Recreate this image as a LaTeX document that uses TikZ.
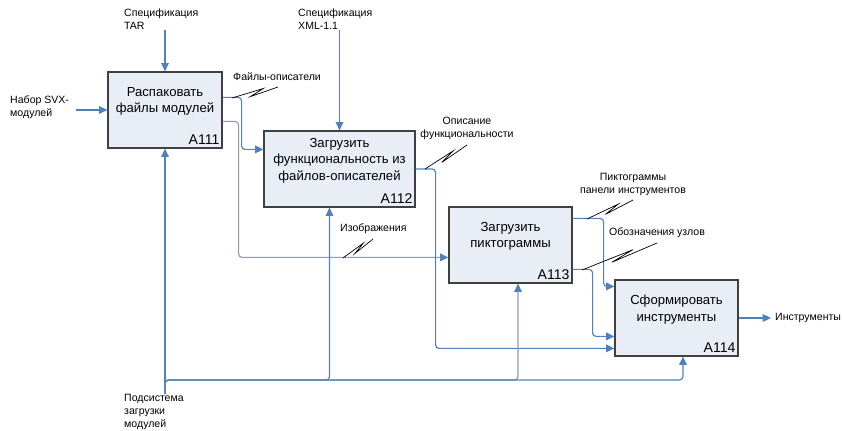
\documentclass[tikz,border=0pt]{standalone}
\usepackage{fontspec}
\setmainfont{Liberation Sans}
\usetikzlibrary{arrows.meta,calc}
\definecolor{flowblue}{RGB}{79,129,189}
\definecolor{flowgrey}{RGB}{140,155,178}
\definecolor{boxfill}{RGB}{233,237,246}
\tikzset{
  box/.style={draw=black!75, fill=boxfill, line width=1pt, minimum height=2.28cm, inner sep=0pt},
  btext/.style={font=\fontsize{11.2}{14}\selectfont, align=center},
  num/.style={anchor=south east, font=\fontsize{12}{14}\selectfont, inner xsep=2.5pt, inner ysep=3pt},
  lbl/.style={font=\fontsize{9}{11}\selectfont, align=left, inner sep=0pt},
  flow/.style={draw=flowblue, line width=1pt, rounded corners=3pt, -{Triangle[length=2.5mm,width=2.3mm,color=flowblue]}},
  zig/.style={draw=black, line width=0.6pt},
}
\newcommand\zigzag[2]{\draw[zig] #1 -- ($#1!0.68!#2+(0,-2)$) -- ($#1!0.4!#2+(0,3)$) -- #2;}
\begin{document}
\begin{tikzpicture}[x=0.03cm,y=-0.03cm]
	\useasboundingbox (0,0) rectangle (842,431);
	\node[box, minimum width=3.42cm] (a111) at (165,110) {};
	\node[box, minimum width=4.53cm] (a112) at (339.5,169) {};
	\node[box, minimum width=3.69cm] (a113) at (510.5,245) {};
	\node[box, minimum width=3.69cm] (a114) at (676.5,318) {};
	\node[btext] (a111t) at ($(a111.north)+(0,30)$) {Распаковать\\файлы модулей};
	\node[btext] (a112t) at ($(a112.north)+(0,30)$) {Загрузить\\функциональность из\\файлов-описателей};
	\node[btext] (a113t) at ($(a113.north)+(0,30)$) {Загрузить\\пиктограммы};
	\node[btext] (a114t) at ($(a114.north)+(0,30)$) {Сформировать\\инструменты};
	\node[num] (a111n) at (a111.south east) {A111};
	\node[num] (a112n) at (a112.south east) {A112};
	\node[num] (a113n) at (a113.south east) {A113};
	\node[num] (a114n) at (a114.south east) {A114};

	\node[lbl, anchor=north west] (tar) at (124,9) {Спецификация\\TAR};
	\node[lbl, anchor=north west] (xml) at (298,9) {Спецификация\\XML-1.1};
	\node[lbl, anchor=north west] (svx) at (10,96) {Набор SVX-\\модулей};
	\node[lbl, anchor=west] (files) at (233,77) {Файлы-описатели};
	\node[lbl, anchor=west] (images) at (340,229) {Изображения};
	\node[lbl, align=center] (descr) at (467,128) {Описание\\функциональности};
	\node[lbl, align=center] (icons) at (633,184.5) {Пиктограммы\\панели инструментов};
	\node[lbl, anchor=west] (marks) at (609,233) {Обозначения узлов};
	\node[lbl, anchor=west] (tools) at (775,318) {Инструменты};
	\node[lbl, anchor=north west] (mech) at (124,394) {Подсистема\\загрузки\\модулей};

	\coordinate (o11) at ($(a111.north east)+(0,26)$);
	\coordinate (o12) at ($(a111.north east)+(0,50)$);
	\coordinate (i21) at ($(a112.north west)+(0,19)$);
	\coordinate (i31) at ($(a113.north west)+(0,51)$);
	\coordinate (o31) at ($(a113.north east)+(0,12)$);
	\coordinate (o32) at ($(a113.north east)+(0,63)$);
	\coordinate (i41) at ($(a114.north west)+(0,7)$);
	\coordinate (i42) at ($(a114.north west)+(0,57)$);
	\coordinate (i43) at ($(a114.north west)+(0,69)$);
	\coordinate (m2) at ($(a112.south)+(-10,0)$);
	\coordinate (m3) at ($(a113.south)+(7.5,0)$);
	\coordinate (m4) at ($(a114.south)+(6.5,0)$);
	\coordinate (bus) at (165,380);
	\coordinate (m0) at (mech.north -| a111.south);

	\draw[flow] (a111.north |- tar.south) -- (a111.north);
	\draw[flow] (a112.north |- xml.south) -- (a112.north);
	\draw[flow] ($(svx.east |- a111.west)+(7,0)$) -- (a111.west);
	\draw[flow] (o11) -- ++(19,0) |- (i21);
	\draw[flow, draw=flowgrey] (o12) -- ++(16,0) |- (i31);
	\draw[flow] (a112.east) -- ++(20,0) |- (i43);
	\draw[flow] (o31) -- ++(31,0) |- (i41);
	\draw[flow] (o32) -- ++(20,0) |- (i42);
	\draw[flow] (a114.east) -- ($(tools.west)+(-4,0)$);
	\draw[flow] (m0) -- (a111.south);
	\draw[flow] (m0) |- (bus -| m2) -- (m2);
	\draw[flow, draw=flowgrey] (m0) |- (bus -| m3) -- (m3);
	\draw[flow] (m0) |- (bus -| m4) -- (m4);

	\zigzag{(232,98)}{(278,87)}
	\zigzag{(343,258)}{(373,239)}
	\zigzag{(425,169)}{(467,145)}
	\zigzag{(587,219)}{(633,200)}
	\zigzag{(582,270)}{(657,243)}
\end{tikzpicture}
\end{document}
